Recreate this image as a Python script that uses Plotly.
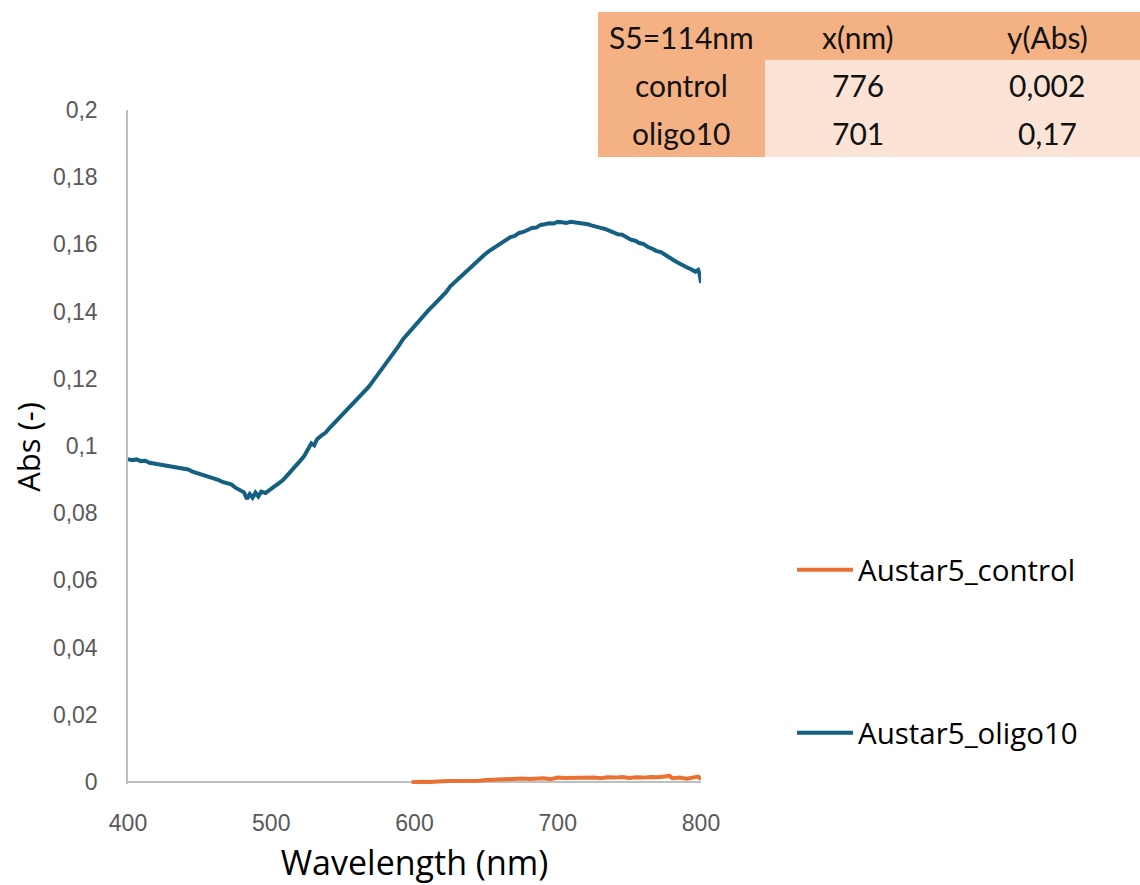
import plotly.graph_objects as go

# ---- spectra (absorbance vs wavelength) ----
wl_oligo = [400, 403, 406, 409, 412, 415, 418, 421, 424, 427, 430, 433, 436, 439, 442, 445,
            448, 451, 454, 457, 460, 463, 466, 469, 472, 475, 478, 481, 483, 485, 487, 489,
            491, 493, 496, 499, 502, 505, 508, 511, 514, 517, 520, 523, 526, 528, 530, 532,
            535, 538, 541, 544, 547, 550, 553, 556, 559, 562, 565, 568, 571, 574, 577, 580,
            583, 586, 589, 592, 595, 598, 601, 604, 607, 610, 613, 616, 619, 622, 625, 628,
            631, 634, 637, 640, 643, 646, 649, 652, 655, 658, 661, 664, 667, 670, 673, 676,
            679, 682, 685, 688, 691, 694, 697, 700, 703, 706, 709, 712, 715, 718, 721, 724,
            727, 730, 733, 736, 739, 742, 745, 748, 751, 754, 757, 760, 763, 766, 769, 772,
            775, 778, 781, 784, 787, 790, 793, 796, 798, 799, 800]
abs_oligo = [0.0961, 0.0958, 0.0960, 0.0955, 0.0956, 0.0950, 0.0948, 0.0946, 0.0943, 0.0941,
             0.0939, 0.0936, 0.0933, 0.0931, 0.0930, 0.0924, 0.0920, 0.0916, 0.0913, 0.0907,
             0.0903, 0.0899, 0.0893, 0.0888, 0.0886, 0.0876, 0.0869, 0.0862, 0.0842, 0.0857,
             0.0846, 0.0861, 0.0850, 0.0864, 0.0860, 0.0868, 0.0879, 0.0888, 0.0898, 0.0912,
             0.0926, 0.0937, 0.0955, 0.0970, 0.0993, 0.1008, 0.1002, 0.1020, 0.1031, 0.1040,
             0.1055, 0.1068, 0.1083, 0.1098, 0.1110, 0.1123, 0.1136, 0.1148, 0.1162, 0.1176,
             0.1193, 0.1210, 0.1228, 0.1245, 0.1262, 0.1282, 0.1298, 0.1318, 0.1333, 0.1345,
             0.1360, 0.1378, 0.1390, 0.1405, 0.1418, 0.1431, 0.1441, 0.1458, 0.1475, 0.1487,
             0.1500, 0.1510, 0.1524, 0.1537, 0.1549, 0.1560, 0.1570, 0.1580, 0.1589, 0.1597,
             0.1606, 0.1613, 0.1622, 0.1625, 0.1634, 0.1637, 0.1643, 0.1649, 0.1650, 0.1658,
             0.1660, 0.1663, 0.1662, 0.1667, 0.1666, 0.1664, 0.1667, 0.1665, 0.1663, 0.1664,
             0.1660, 0.1656, 0.1654, 0.1649, 0.1646, 0.1640, 0.1637, 0.1630, 0.1629, 0.1621,
             0.1614, 0.1611, 0.1604, 0.1601, 0.1592, 0.1587, 0.1580, 0.1577, 0.1568, 0.1561,
             0.1553, 0.1545, 0.1540, 0.1532, 0.1526, 0.1519, 0.1524, 0.1512, 0.1485]

wl_control = [598, 600, 605, 610, 615, 620, 625, 630, 635, 640, 645, 650, 655, 660, 665, 670,
              675, 680, 685, 690, 695, 700, 705, 710, 715, 720, 725, 730, 735, 740, 745, 750,
              755, 760, 765, 770, 775, 778, 780, 785, 790, 795, 798, 800]
abs_control = [-0.0001, 0.0000, 0.0001, 0.0000, 0.0002, 0.0002, 0.0003, 0.0003, 0.0004, 0.0005,
               0.0004, 0.0006, 0.0007, 0.0009, 0.0008, 0.0009, 0.0010, 0.0009, 0.0010, 0.0011,
               0.0008, 0.0013, 0.0012, 0.0013, 0.0014, 0.0012, 0.0013, 0.0011, 0.0014, 0.0013,
               0.0015, 0.0012, 0.0014, 0.0013, 0.0015, 0.0014, 0.0017, 0.0018, 0.0011, 0.0013,
               0.0010, 0.0015, 0.0016, 0.0008]

# ---- axis ticks ----
x_tickvals = [400, 500, 600, 700, 800]
x_ticktext = ["400", "500", "600", "700", "800"]
y_tickvals = [0, 0.02, 0.04, 0.06, 0.08, 0.1, 0.12, 0.14, 0.16, 0.18, 0.2]
y_ticktext = ["0", "0,02", "0,04", "0,06", "0,08", "0,1", "0,12", "0,14", "0,16", "0,18", "0,2"]

# ---- summary table ----
table_header = ["S5=114nm", "x(nm)", "y(Abs)"]
table_rows = [["control", "776", "0,002"],
              ["oligo10", "701", "0,17"]]

BLUE = "#156082"
ORANGE = "#E97132"
AXIS_GREY = "#BFBFBF"
TICK_GREY = "#595959"
HEAD_FILL = "#F4B183"
CELL_FILL = "#FBE4D6"

# page geometry (pixels)
WIDTH, HEIGHT = 1140, 885
PLOT_L, PLOT_R, PLOT_T, PLOT_B = 128, 701, 110, 784
Y_MIN, Y_MAX = -0.0006, 0.2


def paper_x(px):
    return (px - PLOT_L) / (PLOT_R - PLOT_L)


def paper_y(py):
    return (PLOT_B - py) / (PLOT_B - PLOT_T)


fig = go.Figure()
fig.add_trace(go.Scatter(x=wl_control, y=abs_control, mode="lines", name="Austar5_control",
                         line=dict(color=ORANGE, width=4), legend="legend"))
fig.add_trace(go.Scatter(x=wl_oligo, y=abs_oligo, mode="lines", name="Austar5_oligo10",
                         line=dict(color=BLUE, width=4), legend="legend2"))

legend_style = dict(font=dict(family="Open Sans", size=29.5, color="#000000"),
                    bgcolor="rgba(0,0,0,0)", xanchor="left", yanchor="middle",
                    itemwidth=56, borderwidth=0)

fig.update_layout(
    width=WIDTH, height=HEIGHT,
    margin=dict(l=PLOT_L, r=WIDTH - PLOT_R, t=PLOT_T, b=HEIGHT - PLOT_B, pad=0),
    paper_bgcolor="white", plot_bgcolor="white",
    showlegend=True,
    legend=dict(x=paper_x(792), y=paper_y(570), **legend_style),
    legend2=dict(x=paper_x(792), y=paper_y(733), **legend_style),
    xaxis=dict(range=[400, 800], tickvals=x_tickvals, ticktext=x_ticktext, automargin=False,
               showgrid=False, zeroline=False, showline=False,
               ticks="outside", ticklen=18, tickcolor="rgba(0,0,0,0)",
               tickfont=dict(family="Liberation Sans", size=23, color=TICK_GREY),
               title=dict(text="Wavelength (nm)", standoff=19,
                          font=dict(family="Open Sans", size=34, color="#000000"))),
    yaxis=dict(range=[Y_MIN, Y_MAX], tickvals=y_tickvals, ticktext=y_ticktext, automargin=False,
               showgrid=False, zeroline=True, zerolinecolor=AXIS_GREY, zerolinewidth=1.5,
               showline=True, linecolor=AXIS_GREY, linewidth=1.5,
               ticks="outside", ticklen=24, tickcolor="rgba(0,0,0,0)",
               tickfont=dict(family="Liberation Sans", size=23, color=TICK_GREY),
               title=dict(text="Abs (-)", standoff=3,
                          font=dict(family="Open Sans", size=31, color="#000000"))),
)

# table cells
col_edges = [598, 765, 950, 1140]
row_edges = [12, 60, 108, 157]
shapes = [
    dict(type="rect", xref="paper", yref="paper", layer="below", line=dict(width=0),
         x0=paper_x(col_edges[0]), x1=paper_x(col_edges[-1]),
         y0=paper_y(row_edges[1]), y1=paper_y(row_edges[0]), fillcolor=HEAD_FILL),
    dict(type="rect", xref="paper", yref="paper", layer="below", line=dict(width=0),
         x0=paper_x(col_edges[0]), x1=paper_x(col_edges[1]),
         y0=paper_y(row_edges[-1]), y1=paper_y(row_edges[1]), fillcolor=HEAD_FILL),
    dict(type="rect", xref="paper", yref="paper", layer="below", line=dict(width=0),
         x0=paper_x(col_edges[1]), x1=paper_x(col_edges[-1]),
         y0=paper_y(row_edges[-1]), y1=paper_y(row_edges[1]), fillcolor=CELL_FILL),
]
fig.update_layout(shapes=shapes)

col_centers = [681, 858, 1047]
row_centers = [37, 85, 133]
table_font = dict(family="Lato", size=30, color="#111111")
for r, row in enumerate([table_header] + table_rows):
    for c, txt in enumerate(row):
        fig.add_annotation(x=paper_x(col_centers[c]), y=paper_y(row_centers[r]),
                           xref="paper", yref="paper", text=txt, showarrow=False,
                           xanchor="center", yanchor="middle", font=table_font)

fig.write_html("out.html")
